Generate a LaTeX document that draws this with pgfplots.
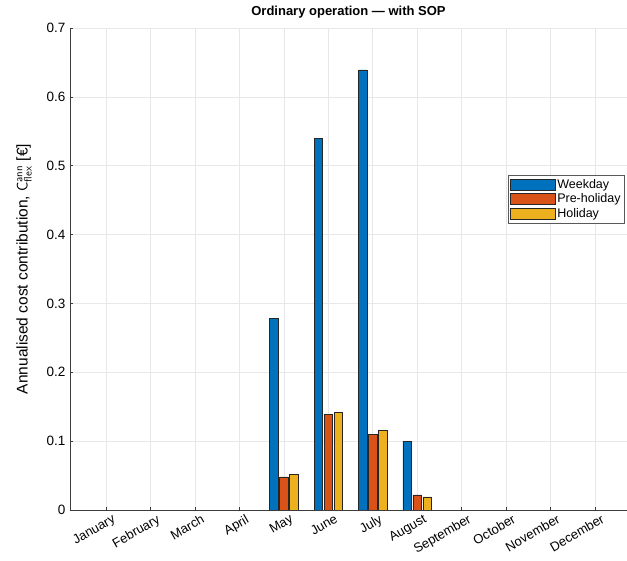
\documentclass[border=0pt]{standalone}
\usepackage{pgfplots}
\pgfplotsset{compat=1.18}
\usepackage{fontspec}
\setmainfont{Liberation Sans}
\definecolor{mblue}{rgb}{0,0.447,0.741}
\definecolor{morange}{rgb}{0.85,0.325,0.098}
\definecolor{myellow}{rgb}{0.929,0.694,0.125}
\definecolor{axgray}{RGB}{60,60,60}
\begin{document}
\begin{tikzpicture}
\begin{axis}[
  name=ax,
  scale only axis,
  width=557pt, height=482pt,
  xmin=0.19, xmax=12.72,
  ymin=0, ymax=0.7,
  axis x line*=bottom,
  axis y line*=left,
  axis line style={draw=axgray, line width=0.6pt},
  ybar,
  bar width=0.19,
  xtick={1,2,3,4,5,6,7,8,9,10,11,12},
  xticklabels={January,February,March,April,May,June,July,August,September,October,November,December},
  x tick label style={rotate=30, anchor=north east, font=\fontsize{13}{14}\selectfont, inner sep=1pt, yshift=-5pt, xshift=4pt},
  ytick={0,0.1,0.2,0.3,0.4,0.5,0.6,0.7},
  yticklabels={0,0.1,0.2,0.3,0.4,0.5,0.6,0.7},
  y tick label style={font=\fontsize{13.5}{14}\selectfont, xshift=-1pt},
  /pgf/number format/assume math mode=true,
  tick align=inside,
  major tick length=3pt,
  tick style={draw=axgray, line width=0.5pt},
  grid=major,
  major grid style={draw=gray!18, line width=0.6pt},
  title={\bfseries Ordinary operation — with SOP},
  title style={font=\fontsize{13}{14}\selectfont, yshift=0pt},
  ylabel={Annualised cost contribution, $\mathsf{C}^{\mathsf{ann}}_{\mathsf{flex}}$ [€]},
  ylabel style={font=\fontsize{15.5}{16}\selectfont, yshift=8pt},
  legend style={at={(0.996,0.695)}, anchor=north east, draw=gray!70!black, line width=0.5pt,
    font=\fontsize{12.5}{13}\selectfont, row sep=0pt, inner sep=2pt},
  legend cell align=left,
  legend image code/.code={\draw[#1] (0pt,-5.5pt) rectangle (45pt,5.5pt);},
]
\addplot[fill=mblue, draw=black!85, line width=0.5pt, bar shift=-0.225] coordinates {(5,0.278) (6,0.540) (7,0.639) (8,0.100)};
\addplot[fill=morange, draw=black!85, line width=0.5pt, bar shift=0] coordinates {(5,0.048) (6,0.139) (7,0.110) (8,0.022)};
\addplot[fill=myellow, draw=black!85, line width=0.5pt, bar shift=0.225] coordinates {(5,0.052) (6,0.142) (7,0.116) (8,0.019)};
\legend{Weekday,Pre-holiday,Holiday}
\end{axis}
\pgfresetboundingbox
\path ([xshift=-70pt,yshift=-51pt]ax.south west) rectangle ([yshift=28pt]ax.north east);
\end{tikzpicture}
\end{document}
